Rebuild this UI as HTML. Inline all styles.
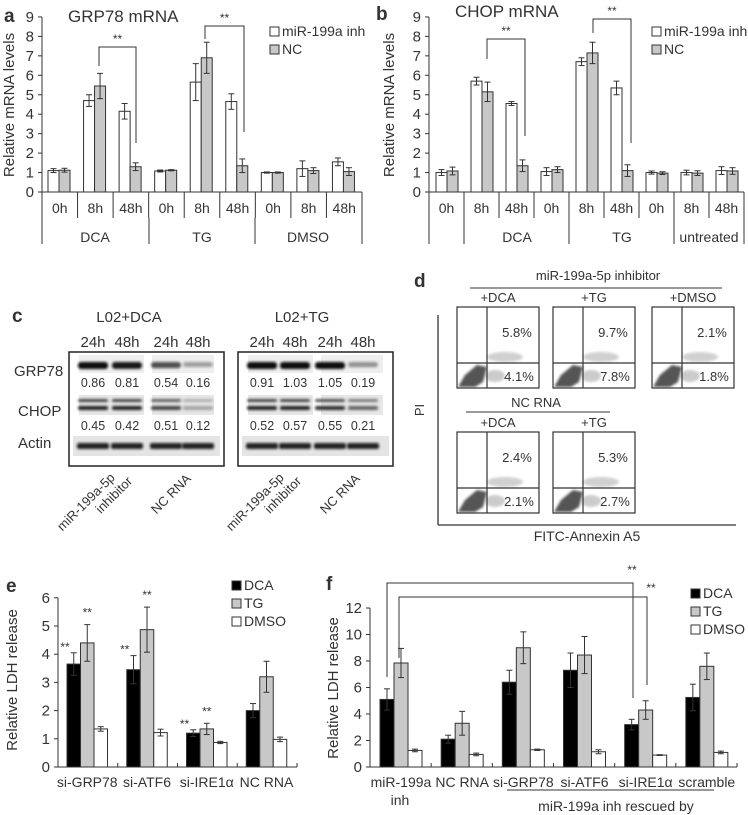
<!DOCTYPE html>
<html><head><meta charset="utf-8"><style>
html,body{margin:0;padding:0;background:#fff;}
svg{display:block;font-family:"Liberation Sans",Arial,sans-serif;}
text{fill:#333;}
</style></head><body>
<svg id="fig" width="748" height="815" viewBox="0 0 748 815" xmlns="http://www.w3.org/2000/svg">
<defs>
<filter id="blur1" x="-20%" y="-100%" width="140%" height="300%"><feGaussianBlur stdDeviation="1.2"/></filter>
<filter id="blur2"><feGaussianBlur stdDeviation="2"/></filter>
</defs>
<text x="4" y="22" font-size="19" font-weight="bold">a</text>
<text x="376" y="20" font-size="19" font-weight="bold">b</text>
<text x="12" y="322" font-size="19" font-weight="bold">c</text>
<text x="414" y="287" font-size="19" font-weight="bold">d</text>
<text x="6" y="592" font-size="19" font-weight="bold">e</text>
<text x="326" y="590" font-size="19" font-weight="bold">f</text>

<g id="pa"></g>
<g id="pb"></g>
<g id="pc"></g>
<g id="pd"></g>
<g id="pe"></g>
<g id="pf"></g>
</svg>
<script>
const aCategories = ["0h","8h","48h","0h","8h","48h","0h","8h","48h"];
const aInh = [1.1,4.7,4.15,1.08,5.65,4.65,1.0,1.2,1.55];
const aInhErr = [0.1,0.3,0.4,0.05,0.95,0.4,0.03,0.4,0.2];
const aNC = [1.12,5.45,1.3,1.12,6.9,1.35,1.0,1.1,1.05];
const aNCErr = [0.1,0.65,0.2,0.03,0.8,0.35,0.03,0.15,0.2];
const aTicks = [0,1,2,3,4,5,6,7,8,9];

const bCategories = ["0h","8h","48h","0h","8h","48h","0h","8h","48h"];
const bInh = [1.0,5.7,4.55,1.05,6.7,5.35,1.0,1.0,1.1];
const bInhErr = [0.15,0.2,0.1,0.2,0.2,0.35,0.08,0.12,0.2];
const bNC = [1.08,5.15,1.35,1.15,7.15,1.1,0.97,0.97,1.08];
const bNCErr = [0.2,0.5,0.3,0.15,0.55,0.3,0.07,0.12,0.17];
const bTicks = [0,1,2,3,4,5,6,7,8,9];

const eCategories = ["si-GRP78","si-ATF6","si-IRE1\u03b1","NC RNA"];
const eDCA = [3.65,3.45,1.2,2.0];
const eDCAErr = [0.4,0.5,0.12,0.25];
const eTG = [4.4,4.87,1.35,3.2];
const eTGErr = [0.65,0.8,0.2,0.55];
const eDMSO = [1.35,1.22,0.87,0.98];
const eDMSOErr = [0.08,0.12,0.04,0.08];
const eTicks = [0,1,2,3,4,5,6];

const fCategories = ["miR-199a","NC RNA","si-GRP78","si-ATF6","si-IRE1\u03b1","scramble"];
const fDCA = [5.1,2.1,6.4,7.3,3.2,5.25];
const fDCAErr = [0.8,0.3,0.9,1.3,0.4,1.0];
const fTG = [7.85,3.3,9.0,8.45,4.3,7.6];
const fTGErr = [1.1,0.9,1.2,1.4,0.7,1.0];
const fDMSO = [1.25,0.95,1.3,1.15,0.9,1.1];
const fDMSOErr = [0.1,0.1,0.05,0.15,0.03,0.1];
const fTicks = [0,2,4,6,8,10,12];

const blotDCA = ["0.86","0.81","0.54","0.16"];
const blotDCAchop = ["0.45","0.42","0.51","0.12"];
const blotTG = ["0.91","1.03","1.05","0.19"];
const blotTGchop = ["0.52","0.57","0.55","0.21"];

const NS="http://www.w3.org/2000/svg";
function mk(parent,tag,attrs,txt){const e=document.createElementNS(NS,tag);for(const k in attrs)e.setAttribute(k,attrs[k]);if(txt!==undefined)e.textContent=txt;parent.appendChild(e);return e;}
function line(p,x1,y1,x2,y2,w){return mk(p,"line",{x1,y1,x2,y2,stroke:"#333","stroke-width":w||1});}
function errBar(p,x,yTop,yBot){line(p,x,yTop,x,yBot);line(p,x-3,yTop,x+3,yTop);line(p,x-3,yBot,x+3,yBot);}

function yAxis(p,x,y0,scale,ticks,fs,labX){
  line(p,x,y0,x,y0-ticks[ticks.length-1]*scale);
  ticks.forEach(t=>{const y=y0-t*scale;line(p,x-4,y,x,y);
    const tx=mk(p,"text",{x:labX,y:y+5,"font-size":fs,"text-anchor":"end"},String(t));
    
    });
}
function bar(p,x,w,y0,v,scale,fill,err,name){
  const r=mk(p,"rect",{x:x,y:y0-v*scale,width:w,height:v*scale,fill:fill,stroke:"#333","stroke-width":1});
  
  
  const cx=x+w/2;errBar(p,cx,y0-(v+err)*scale,y0-(v-err)*scale);
}
function legend(p,x,y,items,gap){
  items.forEach((it,i)=>{const yy=y+i*gap;
    const r=mk(p,"rect",{x:x,y:yy-9,width:9,height:9,fill:it[1],stroke:"#333"});
    
    
    const t=mk(p,"text",{x:x+12,y:yy,"font-size":14},it[0]);
    
    });
}
function ytitle(p,x,y,txt,name){const t=mk(p,"text",{x:0,y:0,"font-size":15,"text-anchor":"middle",transform:`translate(${x},${y}) rotate(-90)`},txt);
  }

function mrnaChart(g,o){
  const s=o.scale,y0=o.y0;
  yAxis(g,o.x0,y0,s,o.ticks,15,o.x0-8);
  line(g,o.x0,y0,o.x1,y0);
  const gw=(o.x1-o.x0)/o.cats.length;
  o.cats.forEach((c,i)=>{
    const gx=o.x0+i*gw;
    bar(g,gx+o.off,o.bw,y0,o.inh[i],s,"#fff",o.inhErr[i],"bar-inh-"+i);
    bar(g,gx+o.off+o.bw,o.bw,y0,o.nc[i],s,"#c8c8c8",o.ncErr[i],"bar-nc-"+i);
    const t=mk(g,"text",{x:gx+gw/2,y:y0+21,"font-size":14,"text-anchor":"middle"},c);
    
    line(g,gx+gw,y0,gx+gw,y0+26);
  });
  line(g,o.x0,y0,o.x0,y0+26);
  o.seps.forEach(x=>line(g,x,y0+26,x,y0+52));
  o.groups.forEach(gr=>{const t=mk(g,"text",{x:gr[1],y:y0+50,"font-size":14,"text-anchor":"middle"},gr[0]);
    });
  o.brackets.forEach(b=>{
    mk(g,"polyline",{points:`${b[0]},${b[3]} ${b[0]},${b[2]} ${b[1]},${b[2]} ${b[1]},${b[4]}`,fill:"none",stroke:"#333"});
    const t=mk(g,"text",{x:(b[0]+b[1])/2,y:b[2]-4,"font-size":12,"text-anchor":"middle"},"**");
    
  });
  legend(g,o.legX,36,[["miR-199a inh","#fff","inh"],["NC","#c8c8c8","nc"]],18);
  const t=mk(g,"text",{x:o.titleX,y:o.titleY,"font-size":17},o.title);
  
  ytitle(g,o.ytX,105,"Relative mRNA levels","y-axis-title");
}
mrnaChart(document.getElementById("pa"),{x0:42,x1:362,y0:192,scale:19.45,ticks:aTicks,cats:aCategories,inh:aInh,inhErr:aInhErr,nc:aNC,ncErr:aNCErr,off:6,bw:11,
  seps:[42,149,255,362],groups:[["DCA",95],["TG",202],["DMSO",308]],
  brackets:[[99,136,47,66,143],[205,244,26,39,132]],legX:270,title:"GRP78 mRNA",titleX:68,titleY:22,ytX:14});
mrnaChart(document.getElementById("pb"),{x0:429,x1:744,y0:192,scale:19.45,ticks:bTicks,cats:bCategories,inh:bInh,inhErr:bInhErr,nc:bNC,ncErr:bNCErr,off:7,bw:11,
  seps:[429,464,569,674,744],groups:[["DCA",517],["TG",622],["untreated",709]],
  brackets:[[487,525,39,59,136],[593,631,19,33,143]],legX:652,title:"CHOP mRNA",titleX:455,titleY:17,ytX:394});

(function(){
  const g=document.getElementById("pc");
  function T(x,y,s,txt,anchor,name){const t=mk(g,"text",{x,y,"font-size":s,"text-anchor":anchor||"middle"},txt);return t;}
  T(129,322,15,"L02+DCA","middle","blot-title-dca");
  T(302,322,15,"L02+TG","middle","blot-title-tg");
  T(14,376,15,"GRP78","start","row-label-grp78");
  T(18,416,15,"CHOP","start","row-label-chop");
  T(18,448,15,"Actin","start","row-label-actin");
  const boxes=[[69,[93,127,166,198],blotDCA,blotDCAchop,[1,0.95,0.7,0.35],[0.9,0.9,0.75,0.3]],[238,[262,295,330,363],blotTG,blotTGchop,[1,1,1,0.4],[0.9,0.9,0.85,0.6]]];
  boxes.forEach((b,bi)=>{
    const r=mk(g,"rect",{x:b[0],y:352,width:155,height:114,fill:"#fff",stroke:"#222","stroke-width":1.5});
    
    ["24h","48h","24h","48h"].forEach((h,i)=>T(b[1][i],347,15,h,"middle","time-label"));
    mk(g,"rect",{x:b[0]+10,y:355,width:65,height:18,fill:"#eee"});
    mk(g,"rect",{x:b[0]+83,y:355,width:62,height:18,fill:"#eee"});
    mk(g,"rect",{x:b[0]+10,y:395,width:65,height:20,fill:"#e6e6e6"});
    mk(g,"rect",{x:b[0]+83,y:395,width:62,height:20,fill:"#e6e6e6"});
    mk(g,"rect",{x:b[0]+4,y:436,width:147,height:20,fill:"#e4e4e4"});
    b[1].forEach((x,i)=>{
      const op=b[4][i],op2=b[5][i];
      const e1=mk(g,"rect",{x:x-15,y:362,width:30,height:4+3*op,rx:3,fill:"#111",opacity:op,filter:"url(#blur1)"});
      
      mk(g,"rect",{x:x-15,y:399,width:30,height:3,rx:2,fill:"#222",opacity:op2*0.9,filter:"url(#blur1)"});
      mk(g,"rect",{x:x-15,y:406,width:30,height:4,rx:2,fill:"#111",opacity:op2,filter:"url(#blur1)"});
      mk(g,"rect",{x:x-16,y:443,width:32,height:6,rx:2,fill:"#111",opacity:0.9,filter:"url(#blur1)"});
      T(x,387,12.5,b[2][i],"middle","band-value");
      T(x,430,12.5,b[3][i],"middle","band-value");
    });
    const lx=b[0];
    [["miR-199a-5p",lx+20,505],["inhibitor",lx+48,498],["NC RNA",lx+105,497]].forEach(l=>{
      const t=mk(g,"text",{x:0,y:0,"font-size":13,"text-anchor":"middle",transform:`translate(${l[1]},${l[2]}) rotate(-45)`},l[0]);
      
    });
  });
})();

(function(){
  const g=document.getElementById("pd");
  function T(x,y,s,txt,name){const t=mk(g,"text",{x,y,"font-size":s,"text-anchor":"middle"},txt);return t;}
  T(598,280,13,"miR-199a-5p inhibitor","group-title-inhibitor");
  line(g,470,288,722,288);
  T(536,407,13,"NC RNA","group-title-nc");
  line(g,466,412,610,412);
  const plots=[[457,307,"+DCA","5.8%","4.1%"],[553,307,"+TG","9.7%","7.8%"],[652,307,"+DMSO","2.1%","1.8%"],[457,432,"+DCA","2.4%","2.1%"],[553,432,"+TG","5.3%","2.7%"]];
  plots.forEach((p,i)=>{
    const x=p[0],y=p[1],w=82,h=81,dx=30,dy=56;
    const r=mk(g,"rect",{x,y,width:w,height:h,fill:"#fff",stroke:"#333","stroke-width":1.2});
    
    mk(g,"ellipse",{cx:x+dx+18,cy:y+dy-6,rx:18,ry:5,fill:"#aaa",opacity:0.55,filter:"url(#blur1)"});
    mk(g,"path",{d:`M${x+1},${y+h-1} L${x+8},${y+dy+12} L${x+20},${y+dy+2} L${x+30},${y+dy+4} L${x+26},${y+h-6} L${x+18},${y+h-1} Z`,fill:"#555",filter:"url(#blur1)"});
    mk(g,"ellipse",{cx:x+dx+8,cy:y+h-12,rx:10,ry:6,fill:"#999",opacity:0.5,filter:"url(#blur1)"});
    line(g,x+dx,y,x+dx,y+h,1.2);line(g,x,y+dy,x+w,y+dy,1.2);
    T(x+w/2,y-5,13,p[2],"treatment-label");
    T(x+60,y+30,13,p[3],"quadrant-upper-right");
    T(x+62,y+dy+18,13,p[4],"quadrant-lower-right");
  });
  line(g,438,315,438,525,1.3);line(g,438,525,736,525,1.3);
  const t=mk(g,"text",{x:0,y:0,"font-size":13,"text-anchor":"middle",transform:"translate(424,410) rotate(-90)"},"PI");
  
  T(587,541,14,"FITC-Annexin A5","x-axis-title");
})();

function ldhChart(g,o){
  const s=o.scale,y0=o.y0;
  yAxis(g,o.x0,y0,s,o.ticks,15,o.x0-8);
  line(g,o.x0,y0,o.x1,y0);
  const gw=(o.x1-o.x0)/o.cats.length;
  o.cats.forEach((c,i)=>{
    const gx=o.x0+i*gw,b=gx+o.off;
    bar(g,b,o.bw,y0,o.dca[i],s,"#000",o.dcaErr[i],"bar-dca-"+i);
    bar(g,b+o.bw,o.bw,y0,o.tg[i],s,"#c8c8c8",o.tgErr[i],"bar-tg-"+i);
    bar(g,b+2*o.bw,o.bw,y0,o.dmso[i],s,"#fff",o.dmsoErr[i],"bar-dmso-"+i);
    line(g,gx+gw,y0,gx+gw,y0-4);
    const t=mk(g,"text",{x:b+1.5*o.bw,y:y0+20,"font-size":14,"text-anchor":"middle"},c);
    
    if(o.stars&&o.stars[i]){
      [[o.dca,o.dcaErr,0],[o.tg,o.tgErr,1]].forEach(ser=>{
        const top=y0-(ser[0][i]+ser[1][i])*s;
        const st=mk(g,"text",{x:b+ser[2]*o.bw+(ser[2]==0?-2:o.bw/2),y:ser[2]==0?top-2:top-8,"font-size":12,"text-anchor":"middle"},"**");
        
      });
    }
  });
  legend(g,o.legX,o.legY,[["DCA","#000","dca"],["TG","#c8c8c8","tg"],["DMSO","#fff","dmso"]],18);
  ytitle(g,o.ytX,o.ytY,"Relative LDH release","y-axis-title");
}
ldhChart(document.getElementById("pe"),{x0:58,x1:297,y0:767,scale:28.2,ticks:eTicks,cats:eCategories,dca:eDCA,dcaErr:eDCAErr,tg:eTG,tgErr:eTGErr,dmso:eDMSO,dmsoErr:eDMSOErr,
  off:9,bw:13.5,stars:[1,1,1,0],legX:232,legY:590,ytX:17,ytY:680});
ldhChart(document.getElementById("pf"),{x0:370,x1:737,y0:767,scale:13.25,ticks:fTicks,cats:fCategories,dca:fDCA,dcaErr:fDCAErr,tg:fTG,tgErr:fTGErr,dmso:fDMSO,dmsoErr:fDMSOErr,
  off:10,bw:14,stars:null,legX:691,legY:598,ytX:338,ytY:688});
(function(){
  const g=document.getElementById("pf");
  mk(g,"polyline",{points:"387,677 387,583 633,583 633,698",fill:"none",stroke:"#333"});
  mk(g,"polyline",{points:"399,658 399,597 647,597 647,685",fill:"none",stroke:"#333"});
  let t=mk(g,"text",{x:632,y:574,"font-size":12,"text-anchor":"middle"},"**");
  
  t=mk(g,"text",{x:651,y:592,"font-size":12,"text-anchor":"middle"},"**");
  
  t=mk(g,"text",{x:400,y:805,"font-size":14,"text-anchor":"middle"},"inh");
  
  line(g,507,790,714,790);
  t=mk(g,"text",{x:616,y:811,"font-size":14,"text-anchor":"middle"},"miR-199a inh rescued by");
  
})();
</script>
</body></html>
